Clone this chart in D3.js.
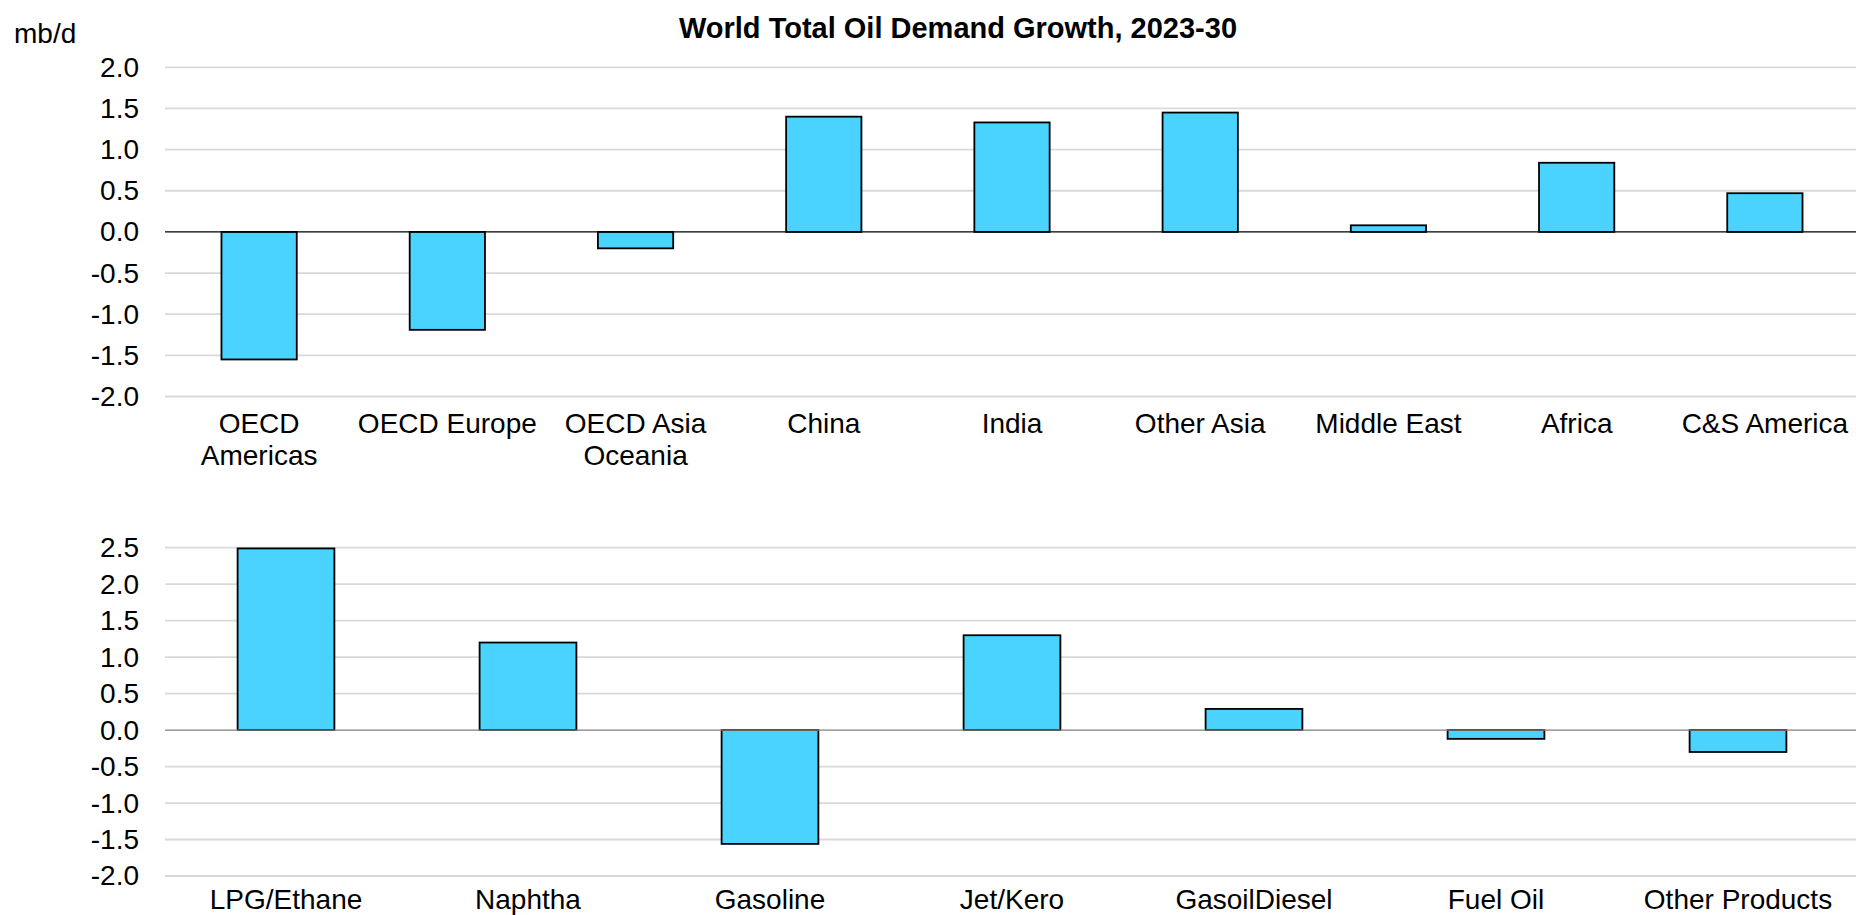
<!DOCTYPE html>
<html>
<head>
<meta charset="utf-8">
<script src="https://cdn.jsdelivr.net/npm/d3@7"></script>
<style>
  html, body { margin: 0; padding: 0; background: #fff; overflow: hidden; }
  svg { display: block; }
  text { font-family: "Liberation Sans", Arial, sans-serif; fill: #000; }
</style>
</head>
<body>
<script>
// Regional demand growth, 2023-30 (mb/d)
const regions = ["OECD Americas", "OECD Europe", "OECD Asia Oceania", "China", "India",
                 "Other Asia", "Middle East", "Africa", "C&S America"];
const regionLabels = [["OECD", "Americas"], ["OECD Europe"], ["OECD Asia", "Oceania"], ["China"],
                      ["India"], ["Other Asia"], ["Middle East"], ["Africa"], ["C&S America"]];
const regionGrowth = [-1.55, -1.19, -0.20, 1.40, 1.33, 1.45, 0.08, 0.84, 0.47];
const regionTicks = [-2.0, -1.5, -1.0, -0.5, 0.0, 0.5, 1.0, 1.5, 2.0];

// Product demand growth, 2023-30 (mb/d)
const products = ["LPG/Ethane", "Naphtha", "Gasoline", "Jet/Kero", "GasoilDiesel", "Fuel Oil", "Other Products"];
const productGrowth = [2.49, 1.20, -1.56, 1.30, 0.29, -0.12, -0.30];
const productTicks = [-2.0, -1.5, -1.0, -0.5, 0.0, 0.5, 1.0, 1.5, 2.0, 2.5];

const title = "World Total Oil Demand Growth, 2023-30";
const unitLabel = "mb/d";

const W = 1856, H = 915;
const svg = d3.select("body").append("svg").attr("width", W).attr("height", H);

const BAR_FILL = "#4AD3FF";
const FONT = 28;

svg.append("text")
  .attr("x", 958).attr("y", 38)
  .attr("text-anchor", "middle")
  .style("font-weight", "bold").style("font-size", "29px")
  .text(title);

svg.append("text")
  .attr("x", 14).attr("y", 43)
  .style("font-size", FONT + "px")
  .text(unitLabel);

function panel(opts) {
  const { cats, labels, values, ticks, top, bottom, zeroColor, labelY } = opts;
  const x = d3.scaleBand().domain(cats).range([165, 1859]).paddingInner(0.6).paddingOuter(0.3);
  const y = d3.scaleLinear().domain([ticks[0], ticks[ticks.length - 1]]).range([bottom, top]);
  const g = svg.append("g");

  // horizontal gridlines
  g.append("g").selectAll("line").data(ticks.filter(t => t !== 0)).join("line")
    .attr("x1", 165).attr("x2", W)
    .attr("y1", d => y(d)).attr("y2", d => y(d))
    .attr("stroke", "#d9d9d9").attr("stroke-width", 1.8);

  // value axis labels
  const axis = d3.axisLeft(y).tickValues(ticks).tickFormat(d3.format(".1f")).tickSize(0).tickPadding(0);
  const ax = g.append("g").attr("transform", "translate(139,0)").call(axis);
  ax.select(".domain").remove();
  ax.selectAll("text")
    .style("font-family", '"Liberation Sans", Arial, sans-serif')
    .style("font-size", FONT + "px").attr("fill", "#000")
    .text(d => d3.format(".1f")(d).replace("−", "-"));

  // bars
  g.append("g").selectAll("rect").data(values).join("rect")
    .attr("x", (d, i) => x(cats[i]))
    .attr("width", x.bandwidth())
    .attr("y", d => y(Math.max(0, d)))
    .attr("height", d => Math.abs(y(d) - y(0)))
    .attr("fill", BAR_FILL).attr("stroke", "#000").attr("stroke-width", 1.8);

  // zero line
  g.append("line")
    .attr("x1", 165).attr("x2", W)
    .attr("y1", y(0)).attr("y2", y(0))
    .attr("stroke", zeroColor).attr("stroke-width", 1.4);

  // category labels
  const lg = g.append("g").selectAll("text").data(labels).join("text")
    .attr("text-anchor", "middle")
    .attr("transform", (d, i) => `translate(${x(cats[i]) + x.bandwidth() / 2},${labelY})`)
    .style("font-size", FONT + "px");
  lg.selectAll("tspan").data(d => d).join("tspan")
    .attr("x", 0).attr("y", (d, i) => i * 32)
    .text(d => d);
}

panel({ cats: regions, labels: regionLabels, values: regionGrowth, ticks: regionTicks,
        top: 67.3, bottom: 396.5, zeroColor: "#000", labelY: 433 });
panel({ cats: products, labels: products.map(p => [p]), values: productGrowth, ticks: productTicks,
        top: 547.7, bottom: 876, zeroColor: "#7f7f7f", labelY: 909 });
</script>
</body>
</html>
